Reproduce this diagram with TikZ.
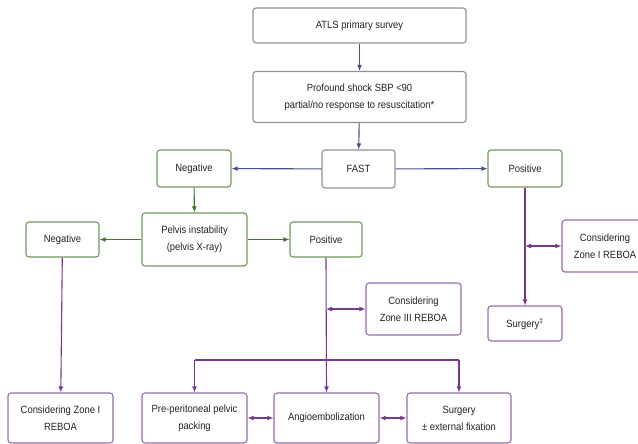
\documentclass[tikz,border=0pt]{standalone}
\usepackage{fontspec}
\newfontfamily\flowfont[FakeStretch=0.9]{Liberation Sans}
\usetikzlibrary{arrows.meta}
\definecolor{boxgray}{RGB}{145,145,145}
\definecolor{boxgreen}{RGB}{112,150,96}
\definecolor{boxpurple}{RGB}{150,110,170}
\definecolor{arrblue}{RGB}{72,80,140}
\definecolor{arrgreen}{RGB}{62,118,48}
\definecolor{arrpurple}{RGB}{118,58,138}
\definecolor{txtgray}{RGB}{35,35,35}
\tikzset{block/.style={
        font=\flowfont\fontsize{10.5}{17}\selectfont,
        draw=#1,
        line width=1.1bp,
        rounded corners=3bp,
        fill=white,
        text=txtgray,
        align=center,
        inner sep=0pt,
        minimum height=35bp},
        %
        lblock/.style={
            block=#1,
            minimum height=51bp}
        }
\def\tiplen{6bp}

\begin{document}
\begin{tikzpicture}[x=1bp,y=-1bp,
                tip/.style={-{Latex[length=\tiplen,width=5bp]}},
                dtip/.style={{Latex[length=\tiplen,width=5bp]}-{Latex[length=\tiplen,width=5bp]}},
                edgeblue/.style={draw=arrblue,line width=1.1bp,tip},
                edgegreen/.style={draw=arrgreen,line width=1.1bp,tip},
                edgepurple/.style={draw=arrpurple,line width=1.1bp,tip},
                edgeboth/.style={draw=arrpurple,line width=1.1bp,dtip}
                ]
\useasboundingbox (0,0) rectangle (638,444);
\clip (0,0) rectangle (638,444);

% survey and FAST
\node[block=boxgray, minimum width=213bp] (atls) at (359.5,25.5) {ATLS primary survey};
\node[lblock=boxgray, minimum width=213bp] (shock) at (359.5,97) {Profound shock SBP <90\\partial/no response to resuscitation*};
\node[block=boxgray, minimum width=73bp, minimum height=38bp] (fast) at (358.5,169) {FAST};
\node[block=boxgreen, minimum width=74bp, minimum height=37bp] (negtop) at (194,168.5) {Negative};
\node[block=boxgreen, minimum width=74bp, minimum height=37bp] (postop) at (525,168.5) {Positive};

% pelvis
\node[lblock=boxgreen, minimum width=105bp, minimum height=53bp] (pelvis) at (194.5,239.5) {Pelvis instability\\(pelvis X-ray)};
\node[block=boxgreen, minimum width=73bp] (negleft) at (62.5,239.5) {Negative};
\node[block=boxgreen, minimum width=72bp] (posmid) at (326,239.5) {Positive};

% REBOA and surgery
\node[lblock=boxpurple, minimum width=86bp, minimum height=52bp] (zoneIr) at (605,246) {Considering\\Zone I REBOA};
\node[lblock=boxpurple, minimum width=95bp, minimum height=52bp] (zoneIII) at (413.5,309) {Considering\\Zone III REBOA};
\node[block=boxpurple, minimum width=74bp] (surgdag) at (525,323.5) {Surgery\textsuperscript{‡}};

% bottom row
\node[lblock=boxpurple, minimum width=105bp, minimum height=50bp] (zoneIbot) at (60.5,418) {Considering Zone I\\REBOA};
\node[lblock=boxpurple, minimum width=105bp, minimum height=50bp] (prepack) at (194.5,418) {Pre-peritoneal pelvic\\packing};
\node[lblock=boxpurple, minimum width=105bp, minimum height=50bp] (angio) at (326.5,418) {Angioembolization};
\node[lblock=boxpurple, minimum width=104bp, minimum height=50bp] (surgfix) at (459,418) {Surgery\\± external fixation};

\coordinate (rjoin) at (postop.south |- zoneIr.west);
\coordinate (mjoin) at (posmid.south |- zoneIII.west);
\coordinate (brl) at (prepack.north |- 0,360);
\coordinate (brr) at (surgfix.north |- 0,360);

\draw[edgeblue] (atls) -- (shock);
\draw[edgeblue] (shock) -- (fast);
\draw[edgeblue] (fast) -- (negtop);
\draw[edgeblue] (fast) -- (postop);

\draw[edgegreen] (negtop) -- (pelvis);
\draw[edgegreen] (pelvis) -- (negleft);
\draw[edgegreen] (pelvis) -- (posmid);

\draw[edgepurple] (postop) -- (surgdag);
\draw[edgeboth] (rjoin) -- (zoneIr);
\draw[edgepurple] (negleft) -- (zoneIbot);
\draw[edgepurple] (posmid.south) -- (angio.north);
\draw[edgeboth] (mjoin) -- (zoneIII);
\draw[draw=arrpurple,line width=1.1bp] (brl) -- (brr);
\draw[edgepurple] (brl) -- (prepack);
\draw[edgepurple] (brr) -- (surgfix);
\draw[edgeboth] (prepack) -- (angio);
\draw[edgeboth] (angio) -- (surgfix);
\end{tikzpicture}
\end{document}
